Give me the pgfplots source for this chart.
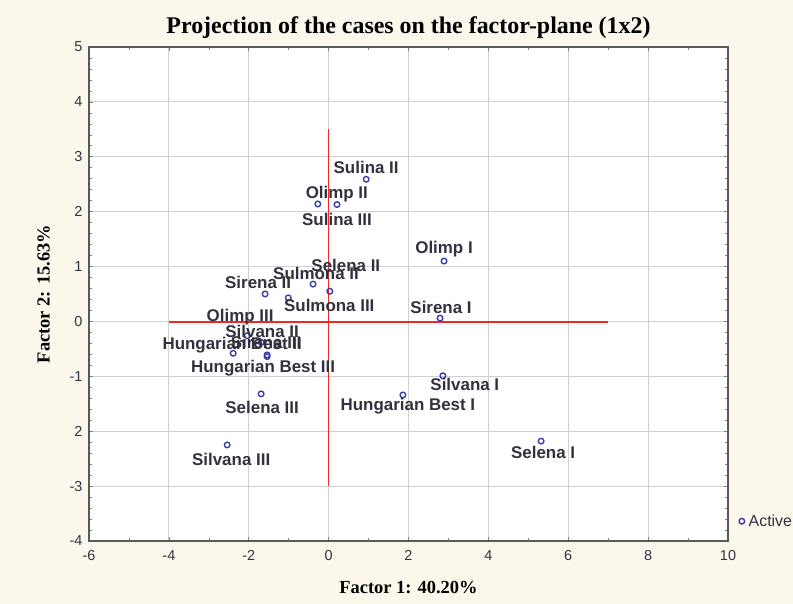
\documentclass[border=0pt]{standalone}
\usepackage{pgfplots}
\pgfplotsset{compat=1.18}
\usepackage{fontspec}
\setmainfont{Liberation Serif}
\newfontfamily\arial{Liberation Sans}
\usetikzlibrary{backgrounds}
\definecolor{cream}{RGB}{252,247,235}
\definecolor{ptblue}{RGB}{60,60,175}
\definecolor{lblgray}{RGB}{50,50,62}
\definecolor{gridgray}{RGB}{208,208,208}
\definecolor{refred}{RGB}{240,40,40}
\definecolor{ticktext}{RGB}{50,50,70}
\begin{document}
\begin{tikzpicture}
\begin{axis}[
  scale only axis, width=639bp, height=494bp,
  xmin=-6, xmax=10, ymin=-4, ymax=5,
  xtick={-6,-4,...,10}, xticklabels={-6,-4,-2,0,2,4,6,8,10},
  ytick={-4,-3,...,5}, yticklabels={-4,-3,2,-1,0,1,2,3,4,5},
  minor x tick num=1, minor y tick num=4,
  grid=major, major grid style={draw=gridgray, line width=1.2bp},
  tick align=inside, major tick length=4bp, minor tick length=3bp,
  tick style={draw=gray, line width=0.6bp},
  axis line style={draw=black!65, line width=1.1bp},
  axis background/.style={fill=white},
  tick label style={font=\arial\fontsize{14.5}{14.5}\selectfont, text=ticktext},
  xticklabel style={yshift=-6bp},
  yticklabel style={xshift=-3bp},
  title={Projection of the cases on the factor-plane (1x2)},
  title style={font=\bfseries\fontsize{24}{27}\selectfont, yshift=-1bp},
  xlabel={Factor 1: 40.20\%},
  ylabel={Factor 2: 15.63\%},
  label style={font=\bfseries\fontsize{18.5}{20}\selectfont},
  xlabel style={yshift=-14bp},
  ylabel style={yshift=13bp},
  legend style={at={(1.017,0.04)}, anchor=west, draw=none, fill=none,
    inner sep=0pt, font=\arial\fontsize{16}{16}\selectfont, text=ticktext},
  legend image code/.code={\draw[#1,mark repeat=2,mark phase=2] plot coordinates {(0cm,0cm)(0.08cm,0cm)(0.16cm,0cm)};},
]
\addplot[draw=refred, line width=1.3bp, no marks, forget plot] coordinates {(-4,-0.008) (7,-0.008)};
\addplot[draw=refred, line width=1.3bp, no marks, forget plot] coordinates {(0,-3) (0,3.5)};
\addplot[only marks, mark=o, mark size=2.8bp, mark options={draw=ptblue, line width=1.4bp},
  point meta=explicit symbolic,
  visualization depends on={\thisrow{dx}\as\dx},
  visualization depends on={\thisrow{dy}\as\dy},
  nodes near coords,
  every node near coord/.append style={anchor=base, inner sep=0pt,
    font=\arial\bfseries\fontsize{17}{17}\selectfont, text=lblgray,
    xshift=\dx bp, yshift=\dy bp}]
table[col sep=comma, x=x, y=y, meta=label] {
label,x,y,dx,dy
Sulina II,0.94,2.59,0,6
Olimp II,-0.27,2.14,19,5
Sulina III,0.21,2.13,0,-21
Olimp I,2.89,1.10,0,8
Selena II,0.03,0.55,16,20
Sulmona II,-0.39,0.68,3,5
Sirena II,-1.59,0.50,-7,5
Sulmona III,-1.01,0.43,41,-14
Sirena I,2.79,0.06,1,5
Olimp III,-2.04,-0.26,-7,14
Silvana II,-1.69,-0.38,1,5
Hungarian Best II,-2.39,-0.58,-1,4
Sirena III,-1.54,-0.61,-1,6
Hungarian Best III,-1.54,-0.64,-4,-16
Silvana I,2.86,-0.99,22,-15
Hungarian Best I,1.86,-1.34,5,-16
Selena III,-1.69,-1.32,1,-20
Selena I,5.32,-2.18,2,-17
Silvana III,-2.54,-2.25,4,-21
};
\addlegendentry{\hspace{2bp}Active}
\coordinate (SW) at (rel axis cs:0,0);
\coordinate (NE) at (rel axis cs:1,1);
\end{axis}
\pgfresetboundingbox
\path[use as bounding box] ([shift={(-89bp,-63bp)}]SW) rectangle ([shift={(65bp,47bp)}]NE);
\begin{pgfonlayer}{background}
\fill[cream] ([shift={(-89bp,-63bp)}]SW) rectangle ([shift={(65bp,47bp)}]NE);
\end{pgfonlayer}
\end{tikzpicture}
\end{document}
